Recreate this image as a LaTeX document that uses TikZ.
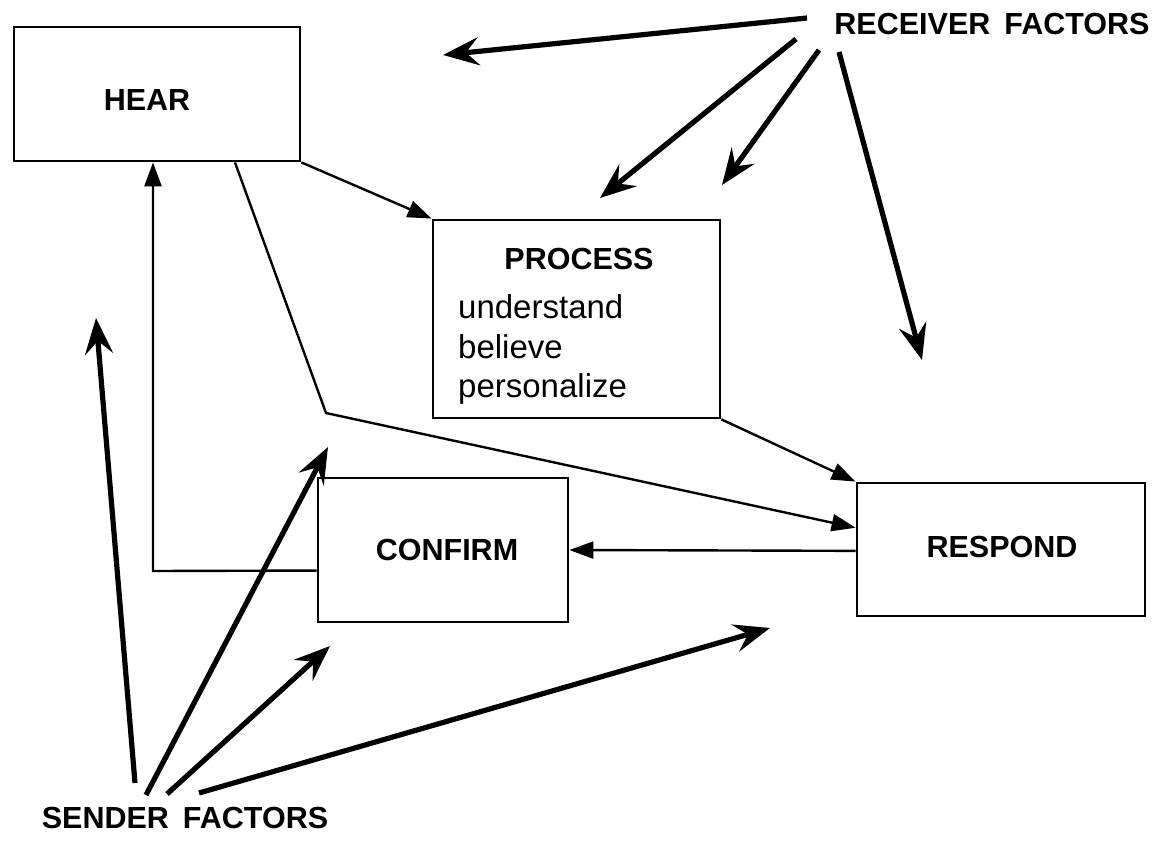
\documentclass[tikz,border=0pt]{standalone}
\usepackage{fontspec}
\setmainfont{Liberation Sans}
\usetikzlibrary{arrows.meta,calc}
\tikzset{
  box/.style={draw, line width=2.8pt, inner sep=0pt},
  bigtxt/.style={font=\fontsize{30.5}{36}\selectfont\bfseries, inner sep=0pt},
  smalltxt/.style={font=\fontsize{33}{38}\selectfont, inner sep=0pt, anchor=base west},
  thin/.style={line width=2.4pt, -{Triangle[length=24pt,width=17pt]}},
  thick/.style={line width=5.2pt, -{Stealth[length=36pt,width=28pt,inset=13pt]}},
  plain/.style={line width=2.4pt}
}
\begin{document}
\begin{tikzpicture}[x=1pt,y=-1pt]
\useasboundingbox (0,0) rectangle (1163,862);
% boxes
\node[box, minimum width=286pt, minimum height=134pt] (hear) at (157,94) {};
\node[box, minimum width=287pt, minimum height=198pt] (process) at (576.5,319) {};
\node[box, minimum width=250pt, minimum height=144pt] (confirm) at (443,550) {};
\node[box, minimum width=288pt, minimum height=133pt] (respond) at (1001,549.5) {};
% texts
\node[bigtxt] (heartxt) at (147,100) {HEAR};
\node[bigtxt, anchor=base] (proctxt) at (579,269) {PROCESS};
\node[smalltxt] (l1) at (458,318) {understand};
\node[smalltxt] (l2) at (458,358) {believe};
\node[smalltxt] (l3) at (458,397) {personalize};
\node[bigtxt] (conftxt) at (447,550) {CONFIRM};
\node[bigtxt] (resptxt) at (1002,547) {RESPOND};
\node[bigtxt] (recv) at (992,24) {RECEIVER\hspace{14pt}FACTORS};
\node[bigtxt] (send) at (185,818) {SENDER\hspace{14pt}FACTORS};
% thin connectors
\draw[thin] (hear.south east) -- (process.north west);
\coordinate (hb) at ($(hear.south west)!0.77!(hear.south east)$);
\coordinate (bend) at (326,413);
\draw[thin] (hb) -- (bend) -- ($(respond.north west)!0.34!(respond.south west)$);
\draw[thin] (process.south east) -- (respond.north west);
\draw[thin] ($(respond.north west)!0.51!(respond.south west)$) -- (confirm.east);
\coordinate (ccorner) at (153,571);
\draw[thin] ($(confirm.north west)!0.64!(confirm.south west)$) -- (ccorner) -- (ccorner |- hear.south);
% receiver arrows
\coordinate (r1s) at (807,18);  \coordinate (r1e) at (443,55);
\coordinate (r2s) at (796,39);  \coordinate (r2e) at (600,198);
\coordinate (r3s) at (819,50);  \coordinate (r3e) at (722,185);
\coordinate (r4s) at (839,52);  \coordinate (r4e) at (922,360);
\draw[thick] (r1s) -- (r1e);
\draw[thick] (r2s) -- (r2e);
\draw[thick] (r3s) -- (r3e);
\draw[thick] (r4s) -- (r4e);
% sender arrows
\coordinate (s1s) at (135,783); \coordinate (s1e) at (96,318);
\coordinate (s2s) at (146,795); \coordinate (s2e) at (328,447);
\coordinate (s3s) at (167,794); \coordinate (s3e) at (330,646);
\coordinate (s4s) at (199,793); \coordinate (s4e) at (770,628);
\draw[thick] (s1s) -- (s1e);
\draw[thick] (s2s) -- (s2e);
\draw[thick] (s3s) -- (s3e);
\draw[thick] (s4s) -- (s4e);
\end{tikzpicture}
\end{document}
